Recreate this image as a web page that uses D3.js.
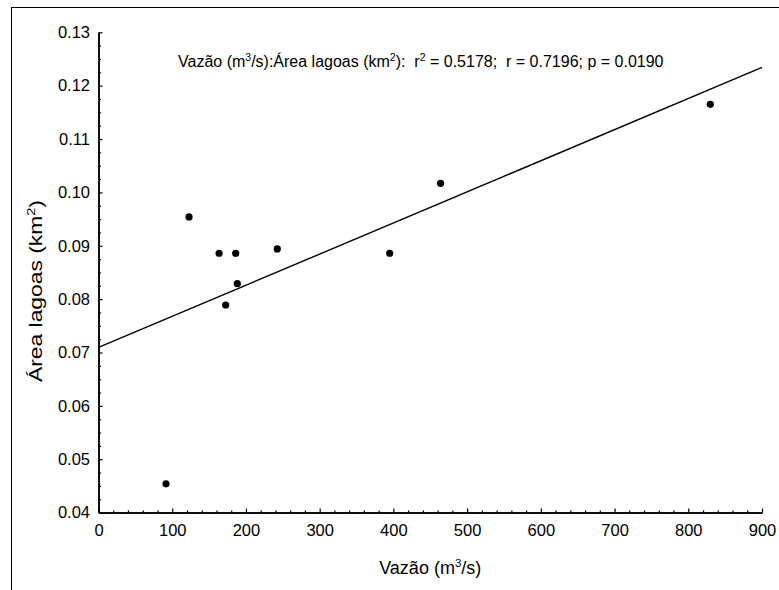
<!DOCTYPE html>
<html>
<head>
<meta charset="utf-8">
<script src="https://cdn.jsdelivr.net/npm/d3@7"></script>
<style>
  body { margin: 0; background: #fff; }
  svg { display: block; font-family: "Liberation Sans", Arial, sans-serif; }
  text { white-space: pre; }
</style>
</head>
<body>
<div id="scatter-plot"></div>
<script>
// data
const vazao = [91.6, 122.8, 163.6, 172.5, 186.1, 188.3, 242.5, 395.0, 464.0, 829.9];
const area  = [0.0454, 0.0954, 0.0886, 0.0789, 0.0886, 0.0829, 0.0894, 0.0886, 0.1017, 0.1165];

const xTicks = [0, 100, 200, 300, 400, 500, 600, 700, 800, 900];
const yTicks = [0.04, 0.05, 0.06, 0.07, 0.08, 0.09, 0.10, 0.11, 0.12, 0.13];

const statsText = ["r", "2", " = 0.5178;  r = 0.7196; p = 0.0190"];

function drawScatterPlot() {
  const dataset = vazao.map((v, i) => ({ vazao: v, area: area[i] }));

  // 1. Access data
  const xAccessor = d => d.vazao;
  const yAccessor = d => d.area;

  // 2. Create Chart Dimensions
  let dimensions = {
    width: 779,
    height: 590,
    margin: {
      top: 32.3,
      right: 17,
      bottom: 77.4,
      left: 98.5,
    }
  }

  dimensions.boundedWidth = dimensions.width
    - dimensions.margin.left
    - dimensions.margin.right;

  dimensions.boundedHeight = dimensions.height
    - dimensions.margin.top
    - dimensions.margin.bottom;

  // 3. Draw the Canvas
  const wrapper = d3.select('#scatter-plot')
    .append('svg')
      .attr('width', dimensions.width)
      .attr('height', dimensions.height);

  // outer frame (runs off the right and bottom edge)
  wrapper.append('rect')
    .attr('x', 11.5)
    .attr('y', 7.5)
    .attr('width', 900)
    .attr('height', 700)
    .attr('fill', 'none')
    .attr('stroke', '#000')
    .attr('stroke-width', 1);

  const bounds = wrapper.append('g')
    .attr('transform', `translate(${dimensions.margin.left}, ${dimensions.margin.top})`);

  // 4. Create the scales
  const xScale = d3.scaleLinear()
    .domain([0, 900])
    .range([0, dimensions.boundedWidth]);

  const yScale = d3.scaleLinear()
    .domain([0.04, 0.13])
    .range([dimensions.boundedHeight, 0]);

  // 5. Axes
  const xMinor = d3.range(0, 901, 20).filter(v => v % 100 !== 0);
  const yMinor = d3.range(0, 36).map(i => 0.04 + i * 0.0025).filter((v, i) => i % 4 !== 0);

  const styleAxis = g => {
    g.select('.domain').attr('stroke', '#000').attr('stroke-width', 1.5);
    g.selectAll('.tick line').attr('stroke', '#000').attr('stroke-width', 1.2);
  };

  bounds.append('g')
    .attr('transform', `translate(0, ${dimensions.boundedHeight})`)
    .call(d3.axisBottom(xScale).tickValues(xMinor).tickFormat('').tickSize(-2.2).tickSizeOuter(0))
    .call(styleAxis);

  bounds.append('g')
    .attr('transform', `translate(0, ${dimensions.boundedHeight})`)
    .call(d3.axisBottom(xScale).tickValues(xTicks).tickFormat(d3.format('d')).tickSize(-4).tickSizeOuter(0).tickPadding(12))
    .call(styleAxis)
    .call(g => g.selectAll('text').attr('fill', '#000').style('font-size', '16.5px').style('font-family', '"Liberation Sans", Arial, sans-serif'));

  bounds.append('g')
    .call(d3.axisLeft(yScale).tickValues(yMinor).tickFormat('').tickSize(-2.5).tickSizeOuter(0))
    .call(styleAxis);

  bounds.append('g')
    .call(d3.axisLeft(yScale).tickValues(yTicks).tickFormat(d3.format('.2f')).tickSize(-4).tickSizeOuter(0).tickPadding(8.5))
    .call(styleAxis)
    .call(g => g.selectAll('text').attr('fill', '#000').style('font-size', '16.5px').style('font-family', '"Liberation Sans", Arial, sans-serif'));

  // 6. Regression line (least squares on the points)
  const mx = d3.mean(dataset, xAccessor);
  const my = d3.mean(dataset, yAccessor);
  const sxy = d3.sum(dataset, d => (xAccessor(d) - mx) * (yAccessor(d) - my));
  const sxx = d3.sum(dataset, d => (xAccessor(d) - mx) ** 2);
  const slope = sxy / sxx;
  const intercept = my - slope * mx;

  const lineData = xScale.domain().map(x => ({ vazao: x, area: intercept + slope * x }));
  bounds.append('path')
    .datum(lineData)
    .attr('fill', 'none')
    .attr('stroke', '#000')
    .attr('stroke-width', 1.4)
    .attr('d', d3.line().x(d => xScale(xAccessor(d))).y(d => yScale(yAccessor(d))));

  // 7. Draw the Data
  bounds.selectAll('circle')
    .data(dataset)
    .join('circle')
      .attr('cx', d => xScale(xAccessor(d)))
      .attr('cy', d => yScale(yAccessor(d)))
      .attr('r', 3.6)
      .attr('fill', '#000');

  // 8. Labels
  const title = wrapper.append('text')
    .attr('x', 178)
    .attr('y', 67)
    .attr('fill', '#000')
    .style('font-size', '16px');
  title.append('tspan').text('Vazão (m');
  title.append('tspan').attr('dy', -6).style('font-size', '10.5px').text('3');
  title.append('tspan').attr('dy', 6).text('/s):Área lagoas (km');
  title.append('tspan').attr('dy', -6).style('font-size', '10.5px').text('2');
  title.append('tspan').attr('dy', 6).text('):  ');
  title.append('tspan').text(statsText[0]);
  title.append('tspan').attr('dy', -6).style('font-size', '10.5px').text(statsText[1]);
  title.append('tspan').attr('dy', 6).text(statsText[2]);

  const xLabel = wrapper.append('text')
    .attr('x', dimensions.margin.left + dimensions.boundedWidth / 2)
    .attr('y', 574)
    .attr('text-anchor', 'middle')
    .attr('fill', '#000')
    .style('font-size', '18px');
  xLabel.append('tspan').text('Vazão (m');
  xLabel.append('tspan').attr('dy', -7).style('font-size', '11.5px').text('3');
  xLabel.append('tspan').attr('dy', 7).text('/s)');

  const yLabel = wrapper.append('text')
    .attr('transform', 'translate(42, 291) rotate(-90)')
    .attr('text-anchor', 'middle')
    .attr('fill', '#000')
    .attr('textLength', 182)
    .attr('lengthAdjust', 'spacingAndGlyphs')
    .style('font-size', '18px');
  yLabel.append('tspan').text('Área lagoas (km');
  yLabel.append('tspan').attr('dy', -7).style('font-size', '11.5px').text('2');
  yLabel.append('tspan').attr('dy', 7).text(')');
}

drawScatterPlot();
</script>
</body>
</html>
